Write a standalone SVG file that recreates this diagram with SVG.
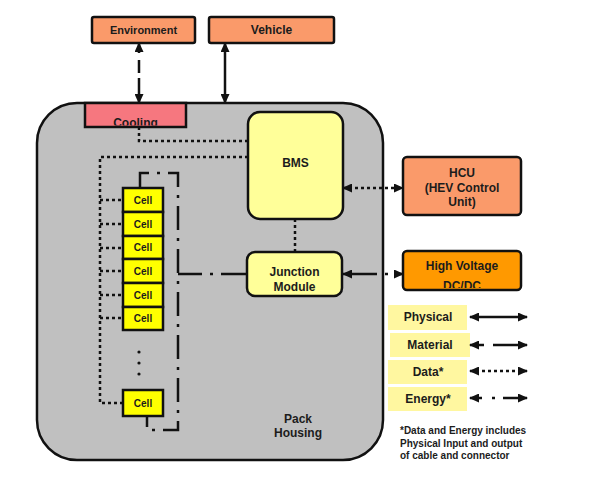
<svg xmlns="http://www.w3.org/2000/svg" width="594" height="481" viewBox="0 0 594 481">
<style>
text{font-family:"Liberation Sans",Arial,sans-serif;font-weight:bold;font-size:12px;fill:#1c1c1c;text-anchor:middle}
.box{stroke:#111;stroke-width:2.5}
.orange{fill:#FA9A6A}
.yel{fill:#FFFF99}
.cell{fill:#FFFF00;stroke:#111;stroke-width:2.5}
.ln{fill:none;stroke:#111;stroke-width:2.5}
.dot{stroke-dasharray:3 3}
.leg{fill:#FFF7A0}
</style>
<defs>
<marker id="ah" viewBox="0 0 10 9" refX="9" refY="4.5" markerWidth="10" markerHeight="9" markerUnits="userSpaceOnUse" orient="auto-start-reverse">
<path d="M0,0 L10,4.5 L0,9 z" fill="#111"/>
</marker>
<clipPath id="cc"><rect x="85" y="103" width="101" height="22.5"/></clipPath>
<clipPath id="hc"><rect x="403" y="251" width="118" height="37"/></clipPath>
</defs>
<rect width="594" height="481" fill="#fff"/>

<g id="pack-housing">
<rect x="37" y="103" width="346" height="357" rx="40" fill="#C0C0C0" stroke="#111" stroke-width="2.5"/>
<text x="298" y="423">Pack</text>
<text x="298" y="437">Housing</text>
</g>

<g id="connectors">
<line class="ln" x1="139" y1="43" x2="139" y2="103" stroke-dasharray="10 7 13 5 40" marker-start="url(#ah)" marker-end="url(#ah)"/>
<line class="ln" x1="225" y1="43" x2="225" y2="103" marker-start="url(#ah)" marker-end="url(#ah)"/>
<path class="ln dot" d="M139,127 V141 H248"/>
<path class="ln dot" d="M248,157 H100 V403 H123"/>
<path class="ln dot" d="M100,200 H123 M100,224 H123 M100,248 H123 M100,271 H123 M100,295 H123 M100,318 H123"/>
<path class="ln" d="M140,188 V173 H178 V430 H147 V416" stroke-dasharray="24 8 3 8"/>
<line class="ln" x1="178" y1="274" x2="247" y2="274" stroke-dasharray="24 8 3 8 40"/>
<line class="ln dot" x1="295" y1="219" x2="295" y2="252"/>
<line class="ln dot" x1="343" y1="188" x2="403" y2="188" marker-start="url(#ah)" marker-end="url(#ah)"/>
<line class="ln" x1="343" y1="274" x2="403" y2="274" stroke-dasharray="34 8 3 8 20" marker-start="url(#ah)" marker-end="url(#ah)"/>
</g>

<g id="environment">
<rect class="box orange" x="92" y="17" width="103" height="26" rx="2"/>
<text x="143.5" y="34" style="font-size:11px">Environment</text>
</g>
<g id="vehicle">
<rect class="box orange" x="209" y="17" width="125" height="26" rx="2"/>
<text x="271.5" y="34">Vehicle</text>
</g>
<g id="cooling">
<rect class="box" x="85" y="103" width="101" height="24" fill="#F6777F"/>
<text x="135.5" y="127" clip-path="url(#cc)">Cooling</text>
</g>
<g id="bms">
<rect class="box yel" x="248" y="112" width="95" height="107" rx="12"/>
<text x="295.5" y="167">BMS</text>
</g>
<g id="junction-module">
<rect class="box yel" x="247" y="252" width="95" height="44" rx="8"/>
<text x="294.5" y="276">Junction</text>
<text x="294.5" y="291">Module</text>
</g>
<g id="hcu">
<rect class="box orange" x="403" y="157" width="118" height="58" rx="4"/>
<text x="462" y="177">HCU</text>
<text x="462" y="192">(HEV Control</text>
<text x="462" y="206">Unit)</text>
</g>
<g id="hv-dcdc">
<rect class="box" x="403" y="251" width="118" height="39" rx="4" fill="#FF9900"/>
<text x="462" y="270">High Voltage</text>
<text x="462" y="290" clip-path="url(#hc)">DC/DC</text>
</g>

<g id="cells">
<rect class="cell" x="123" y="188" width="40" height="24"/><text x="143" y="204" style="font-size:10px">Cell</text>
<rect class="cell" x="123" y="212" width="40" height="24"/><text x="143" y="228" style="font-size:10px">Cell</text>
<rect class="cell" x="123" y="236" width="40" height="23"/><text x="143" y="251" style="font-size:10px">Cell</text>
<rect class="cell" x="123" y="259" width="40" height="24"/><text x="143" y="275" style="font-size:10px">Cell</text>
<rect class="cell" x="123" y="283" width="40" height="24"/><text x="143" y="299" style="font-size:10px">Cell</text>
<rect class="cell" x="123" y="307" width="40" height="23"/><text x="143" y="322" style="font-size:10px">Cell</text>
<rect class="cell" x="123" y="390" width="40" height="26"/><text x="143" y="407" style="font-size:10px">Cell</text>
<circle cx="139" cy="352" r="1.6" fill="#111"/>
<circle cx="139" cy="363" r="1.6" fill="#111"/>
<circle cx="139" cy="374" r="1.6" fill="#111"/>
</g>

<g id="legend">
<rect class="leg" x="388" y="305" width="79" height="25"/>
<text x="428" y="321">Physical</text>
<rect class="leg" x="390" y="333" width="80" height="24"/>
<text x="430" y="349">Material</text>
<rect class="leg" x="388" y="360" width="79" height="24"/>
<text x="428" y="376">Data*</text>
<rect class="leg" x="388" y="387" width="79" height="24"/>
<text x="428" y="403">Energy*</text>
<line class="ln" x1="470" y1="317" x2="527" y2="317" marker-start="url(#ah)" marker-end="url(#ah)"/>
<line class="ln" x1="470" y1="345" x2="527" y2="345" stroke-dasharray="14 9 40" marker-start="url(#ah)" marker-end="url(#ah)"/>
<line class="ln dot" x1="470" y1="371" x2="527" y2="371" marker-start="url(#ah)" marker-end="url(#ah)"/>
<line class="ln" x1="470" y1="398" x2="527" y2="398" stroke-dasharray="12 10 3 8 40" marker-start="url(#ah)" marker-end="url(#ah)"/>
<text x="400" y="434" style="font-size:10px;text-anchor:start">*Data and Energy includes</text>
<text x="400" y="447" style="font-size:10px;text-anchor:start">Physical Input and output</text>
<text x="400" y="459" style="font-size:10px;text-anchor:start">of cable and connector</text>
</g>
</svg>
